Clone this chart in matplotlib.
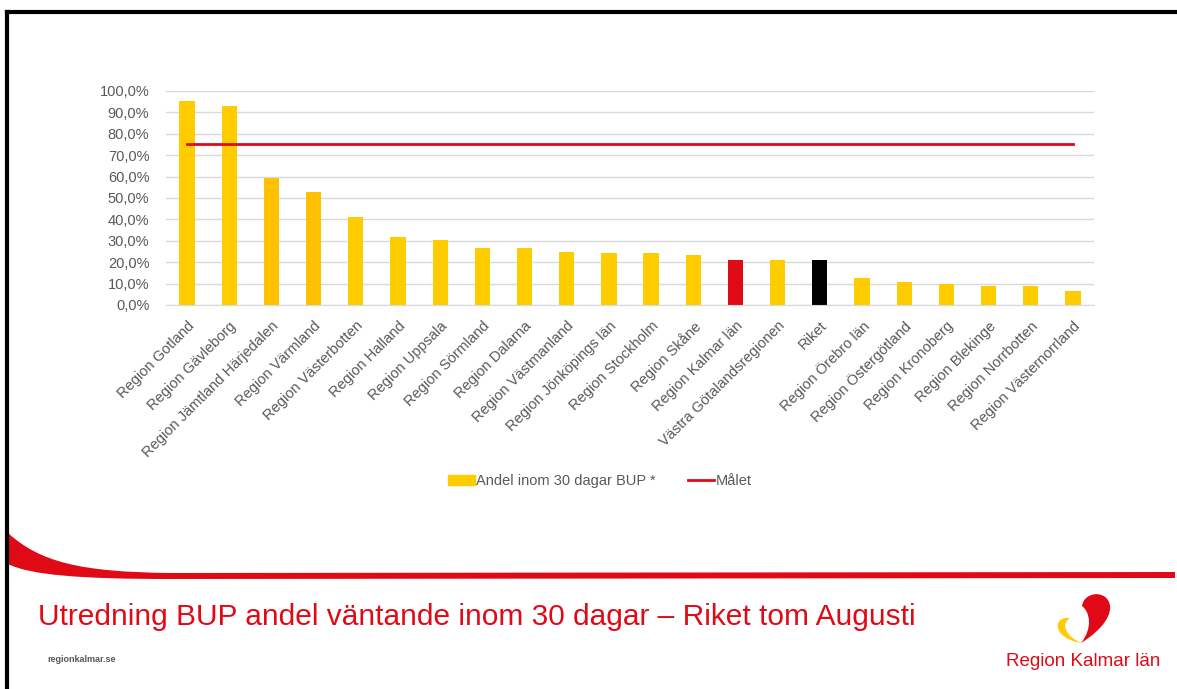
import numpy as np
import matplotlib.pyplot as plt
from matplotlib.path import Path
from matplotlib.patches import PathPatch
from matplotlib.lines import Line2D
from matplotlib.patches import Patch
from matplotlib.ticker import FuncFormatter

regions = [
    "Region Gotland", "Region Gävleborg", "Region Jämtland Härjedalen",
    "Region Värmland", "Region Västerbotten", "Region Halland",
    "Region Uppsala", "Region Sörmland", "Region Dalarna",
    "Region Västmanland", "Region Jönköpings län", "Region Stockholm",
    "Region Skåne", "Region Kalmar län", "Västra Götalandsregionen",
    "Riket", "Region Örebro län", "Region Östergötland",
    "Region Kronoberg", "Region Blekinge", "Region Norrbotten",
    "Region Västernorrland",
]
andel = [95.5, 93.0, 59.2, 52.9, 41.3, 31.8, 30.4, 26.5, 26.5, 24.9, 24.1,
         24.1, 23.4, 21.0, 21.0, 21.0, 12.5, 10.7, 9.7, 8.7, 8.7, 6.7]
malet = 75.0

W, H = 1177, 689
plt.rcParams['font.family'] = ['Liberation Sans', 'DejaVu Sans']

yellow = "#FFCC00"
orange = "#FFC000"
red = "#E00A17"
gray_txt = "#595959"

colors = [yellow] * len(regions)
colors[2] = orange
colors[3] = orange
colors[regions.index("Region Kalmar län")] = red
colors[regions.index("Riket")] = "black"


def fx(x):
    return x / W


def fy(y):
    return 1 - y / H


fig = plt.figure(figsize=(W / 100, H / 100), dpi=100)
ax = fig.add_axes([fx(166), fy(305), fx(1094) - fx(166), fy(91) - fy(305)])

x = np.arange(len(regions))
ax.bar(x, andel, width=0.36, color=colors, zorder=2)
ax.plot(x, [malet] * len(x), color=red, lw=2, zorder=3)

ax.set_xlim(-0.5, len(regions) - 0.5)
ax.set_ylim(0, 100)
ax.set_yticks(np.arange(0, 101, 10))
ax.yaxis.set_major_formatter(FuncFormatter(lambda v, p: f"{v:.1f}%".replace(".", ",")))
ax.grid(axis="y", color="#D9D9D9", lw=1, zorder=0)
for s in ["top", "right", "left"]:
    ax.spines[s].set_visible(False)
ax.spines["bottom"].set_color("#D9D9D9")
ax.tick_params(length=0, colors=gray_txt, labelsize=10.5)
ax.tick_params(axis="y", pad=12)
ax.set_xticks(x)
ax.set_xticklabels(regions, rotation=45, ha="right", rotation_mode="anchor")
ax.tick_params(axis="x", pad=10)

handles = [Patch(color=yellow), Line2D([0], [0], color=red, lw=2)]
fig.legend(handles, ["Andel inom 30 dagar BUP *", "Målet"], loc="center",
           bbox_to_anchor=(fx(600), fy(481)), ncol=2, frameon=False,
           fontsize=10.5, labelcolor=gray_txt, handlelength=1.8,
           handletextpad=0.1, columnspacing=2.2)

# slide frame
fig.add_artist(Line2D([fx(7), fx(7)], [fy(12), 0], color="black", lw=3))
fig.add_artist(Line2D([fx(7), 1], [fy(12), fy(12)], color="black", lw=3))

# red swoosh
verts = [(8, 533), (40, 562), (80, 572), (170, 573), (1175, 572), (1175, 578),
         (170, 579), (80, 579), (30, 575), (8, 564), (8, 533)]
codes = [Path.MOVETO, Path.CURVE4, Path.CURVE4, Path.CURVE4, Path.LINETO,
         Path.LINETO, Path.LINETO, Path.CURVE4, Path.CURVE4, Path.CURVE4,
         Path.CLOSEPOLY]
fig.add_artist(PathPatch(Path([(fx(a), fy(b)) for a, b in verts], codes),
                         transform=fig.transFigure, color=red, lw=0))

fig.text(fx(38), fy(617), "Utredning BUP andel väntande inom 30 dagar – Riket tom Augusti",
         color=red, fontsize=21.5, va="center", ha="left")
fig.text(fx(47), fy(660), "regionkalmar.se", color=gray_txt, fontsize=6.5,
         va="center", ha="left", weight="bold")

# logo
red_verts = [(1081, 643), (1102, 630), (1114, 614), (1109, 602),
             (1104, 590), (1084, 592), (1082, 606),
             (1090, 612), (1093, 628), (1081, 643)]
red_codes = [Path.MOVETO, Path.CURVE4, Path.CURVE4, Path.CURVE4,
             Path.CURVE4, Path.CURVE4, Path.CURVE4,
             Path.CURVE4, Path.CURVE4, Path.CURVE4]
fig.add_artist(PathPatch(Path([(fx(a), fy(b)) for a, b in red_verts], red_codes),
                         transform=fig.transFigure, color=red, lw=0))
yel_verts = [(1070, 618), (1052, 616), (1052, 638), (1081, 643),
             (1066, 636), (1060, 624), (1070, 618)]
yel_codes = [Path.MOVETO, Path.CURVE4, Path.CURVE4, Path.CURVE4,
             Path.CURVE4, Path.CURVE4, Path.CURVE4]
fig.add_artist(PathPatch(Path([(fx(a), fy(b)) for a, b in yel_verts], yel_codes),
                         transform=fig.transFigure, color=yellow, lw=0))
fig.text(fx(1083), fy(662), "Region Kalmar län", color=red, fontsize=13.5,
         va="center", ha="center")

fig.savefig("out.png", dpi=100, facecolor="white")
